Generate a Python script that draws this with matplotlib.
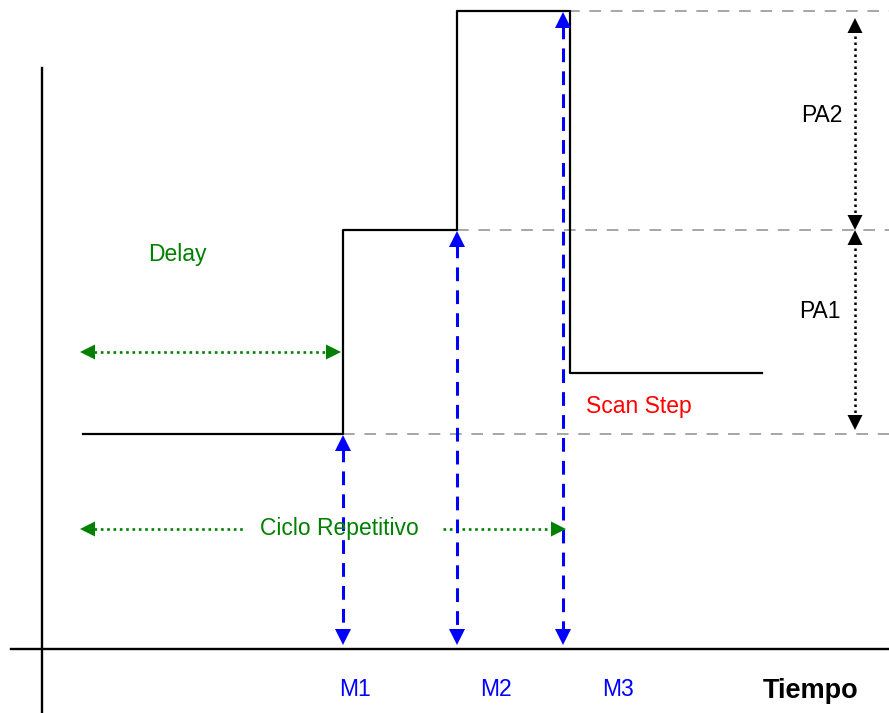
import matplotlib
matplotlib.use("Agg")
import matplotlib.pyplot as plt

plt.rcParams["font.family"] = ["Liberation Sans", "DejaVu Sans"]

# diagram coordinates (pixel-like units, y grows downwards)
step_t = [83, 343, 343, 457, 457, 570, 570, 762]
step_v = [434, 434, 230, 230, 11, 11, 373, 373]

level_y = [11, 230, 434]          # gray reference levels
level_start = [568, 457, 343]

marker_t = [343, 457, 563]        # M1, M2, M3 sampling instants
marker_top = [434, 230, 11]
marker_labels = ["M1", "M2", "M3"]
marker_label_x = [355, 496, 618]

pa_x = 855
pa_spans = [(11, 230), (230, 434)]
pa_labels = ["PA2", "PA1"]
pa_label_pos = [(822, 115), (820, 312)]

GREEN = "#008000"
BLUE = "#0000ff"
FS = 16.5


def head(ax, tip, direction, color, length=15, width=15):
    x, y = tip
    dx, dy = direction
    bx, by = x - dx * length, y - dy * length
    px, py = -dy * width / 2, dx * width / 2
    ax.fill([x, bx + px, bx - px], [y, by + py, by - py], color=color, lw=0, zorder=5)


fig = plt.figure(figsize=(8.89, 7.13), dpi=100)
ax = fig.add_axes([0, 0, 1, 1])
ax.set_xlim(0, 889)
ax.set_ylim(713, 0)
ax.axis("off")

# axes of the diagram
ax.plot([42, 42], [68, 713], color="black", lw=1.7)
ax.plot([11, 889], [649, 649], color="black", lw=1.7)

# gray dashed levels
for y, x0 in zip(level_y, level_start):
    ax.plot([x0, 889], [y, y], color="#a6a6a6", lw=1.4, dashes=(6, 5))

# step signal
ax.plot(step_t, step_v, color="black", lw=1.6, zorder=4)

# blue measurement arrows
for t, top, lab, lx in zip(marker_t, marker_top, marker_labels, marker_label_x):
    ax.plot([t, t], [top + 14, 632], color=BLUE, lw=2.2, dashes=(4.5, 3), zorder=3)
    head(ax, (t, top + 1), (0, -1), BLUE, length=16, width=16)
    head(ax, (t, 645), (0, 1), BLUE, length=16, width=16)
    ax.text(lx, 690, lab, color=BLUE, fontsize=FS, ha="center", va="center")

# PA arrows
for (y0, y1), lab, (lx, ly) in zip(pa_spans, pa_labels, pa_label_pos):
    top = y0 + 7 if y0 == 11 else y0
    bot = y1 if y1 == 230 else y1 - 4
    ax.plot([pa_x, pa_x], [top + 12, bot - 12], color="black", lw=1.8, ls=(0, (1, 1.4)))
    head(ax, (pa_x, top), (0, -1), "black", length=15, width=15)
    head(ax, (pa_x, bot), (0, 1), "black", length=15, width=15)
    ax.text(lx, ly, lab, color="black", fontsize=FS, ha="center", va="center")

# Delay arrow
ax.plot([94, 330], [352, 352], color=GREEN, lw=1.9, ls=(0, (1, 1.4)))
head(ax, (80, 352), (-1, 0), GREEN, length=15, width=15)
head(ax, (341, 352), (1, 0), GREEN, length=15, width=15)
ax.text(177, 255, "Delay", color=GREEN, fontsize=FS, ha="center", va="center")

# Ciclo Repetitivo arrow
ax.plot([94, 245], [529, 529], color=GREEN, lw=1.9, ls=(0, (1, 1.4)))
ax.plot([443, 552], [529, 529], color=GREEN, lw=1.9, ls=(0, (1, 1.4)))
head(ax, (80, 529), (-1, 0), GREEN, length=15, width=15)
head(ax, (566, 529), (1, 0), GREEN, length=15, width=15)
ax.text(339, 529, "Ciclo Repetitivo", color=GREEN, fontsize=FS, ha="center", va="center")

ax.text(639, 407, "Scan Step", color="red", fontsize=FS, ha="center", va="center")
ax.text(811, 691, "Tiempo", color="black", fontsize=19.5, fontweight="bold",
        ha="center", va="center")

fig.savefig("out.png", dpi=100)
